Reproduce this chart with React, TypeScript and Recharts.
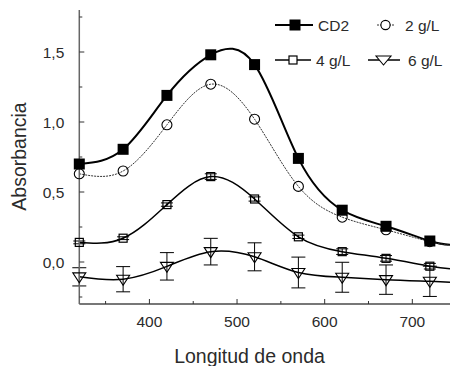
import React from 'react';
import { LineChart, Line, XAxis, YAxis, ErrorBar, Legend, Label } from 'recharts';

// Wavelengths (nm) of the measured points
const wavelengths = [320, 370, 420, 470, 520, 570, 620, 670, 720];
// Absorbance series
const cd2 = [0.70, 0.805, 1.19, 1.48, 1.41, 0.74, 0.37, 0.255, 0.15];
const g2 = [0.63, 0.65, 0.98, 1.27, 1.02, 0.54, 0.32, 0.23, 0.145];
const g4 = [0.14, 0.17, 0.41, 0.61, 0.45, 0.18, 0.074, 0.026, -0.03];
const g6 = [-0.106, -0.123, -0.031, 0.074, 0.037, -0.075, -0.109, -0.126, -0.138];
// Error bars
const g4Err = [0.01, 0.01, 0.012, 0.02, 0.015, 0.012, 0.02, 0.02, 0.02];
const g6Err = [0.065, 0.09, 0.098, 0.095, 0.1, 0.11, 0.107, 0.105, 0.108];
// Curves continue to the right edge of the plot
const edgeX = 743;
const edgeCd2 = 0.123;
const edgeG2 = 0.12;
const edgeG4 = -0.048;
const edgeG6 = -0.145;

// Ticks
const xTicks = [350, 400, 450, 500, 550, 600, 650, 700];
const xTickLabels: Record<number, string> = { 400: '400', 500: '500', 600: '600', 700: '700' };
const yTicks = [-0.25, 0, 0.25, 0.5, 0.75, 1.0, 1.25, 1.5, 1.75];
const yTickLabels: Record<string, string> = { '0': '0,0', '0.5': '0,5', '1': '1,0', '1.5': '1,5' };

const seriesNames = ['CD2', '2 g/L', '4 g/L', '6 g/L'];

const data = [
  ...wavelengths.map((x, i) => ({
    x,
    m: true,
    cd2: cd2[i],
    g2: g2[i],
    g4: g4[i],
    g6: g6[i],
    g4e: g4Err[i],
    g6e: g6Err[i],
  })),
  { x: edgeX, m: false, cd2: edgeCd2, g2: edgeG2, g4: edgeG4, g6: edgeG6, g4e: null, g6e: null },
];

const FONT = '"Liberation Sans", Arial, sans-serif';
const TXT = '#2b2b2b';

const FilledSquare = (p: any) =>
  p.payload && p.payload.m ? (
    <rect key={p.key} x={p.cx - 5.5} y={p.cy - 5.5} width={11} height={11} fill="#000" />
  ) : (
    <g key={p.key} />
  );
const OpenCircle = (p: any) =>
  p.payload && p.payload.m ? (
    <circle key={p.key} cx={p.cx} cy={p.cy} r={5} fill="none" stroke="#000" strokeWidth={1.1} />
  ) : (
    <g key={p.key} />
  );
const OpenSquare = (p: any) =>
  p.payload && p.payload.m ? (
    <rect key={p.key} x={p.cx - 4} y={p.cy - 4} width={8} height={8} fill="none" stroke="#000" strokeWidth={1.2} />
  ) : (
    <g key={p.key} />
  );
const OpenTriangle = (p: any) =>
  p.payload && p.payload.m ? (
    <path
      key={p.key}
      d={`M${p.cx - 6.5},${p.cy - 4} L${p.cx + 6.5},${p.cy - 4} L${p.cx},${p.cy + 6} Z`}
      fill="none"
      stroke="#000"
      strokeWidth={1.1}
    />
  ) : (
    <g key={p.key} />
  );

const XTick = (p: any) => {
  const v = p.payload.value;
  const lab = xTickLabels[v];
  const major = !!lab;
  return (
    <g>
      <line x1={p.x} x2={p.x} y1={p.y} y2={p.y - (major ? 5 : 3)} stroke="#333" strokeWidth={1} />
      {lab && (
        <text x={p.x} y={p.y + 23} textAnchor="middle" fontFamily={FONT} fontSize={15.5} fill={TXT}>
          {lab}
        </text>
      )}
    </g>
  );
};

const YTick = (p: any) => {
  const v = p.payload.value;
  const lab = yTickLabels[String(v)];
  const major = !!lab;
  return (
    <g>
      <line x1={p.x} x2={p.x + (major ? 5 : 3)} y1={p.y} y2={p.y} stroke="#333" strokeWidth={1} />
      {lab && (
        <text x={p.x - 15} y={p.y + 5.5} textAnchor="end" fontFamily={FONT} fontSize={15.5} fill={TXT}>
          {lab}
        </text>
      )}
    </g>
  );
};

const LegendContent = () => (
  <svg width={450} height={80} style={{ display: 'block' }}>
    {/* CD2 */}
    <line x1={275} x2={313} y1={25} y2={25} stroke="#000" strokeWidth={2} />
    <rect x={289.5} y={19.5} width={11} height={11} fill="#000" />
    <text x={318} y={31} fontFamily={FONT} fontSize={15.5} fill={TXT}>{seriesNames[0]}</text>
    {/* 2 g/L */}
    <line x1={377} x2={394} y1={25} y2={25} stroke="#333" strokeWidth={1} strokeDasharray="2 1" />
    <circle cx={385.5} cy={25} r={4.6} fill="#fff" stroke="#000" strokeWidth={1.1} />
    <text x={405} y={31} fontFamily={FONT} fontSize={15.5} fill={TXT}>{seriesNames[1]}</text>
    {/* 4 g/L */}
    <line x1={275} x2={311} y1={60} y2={60} stroke="#000" strokeWidth={1.5} />
    <rect x={289} y={56} width={8} height={8} fill="#fff" stroke="#000" strokeWidth={1.2} />
    <text x={316} y={66} fontFamily={FONT} fontSize={15.5} fill={TXT}>{seriesNames[2]}</text>
    {/* 6 g/L */}
    <line x1={368} x2={400} y1={60} y2={60} stroke="#000" strokeWidth={1.5} />
    <path d="M376,56 L391,56 L383.5,65 Z" fill="#fff" stroke="#000" strokeWidth={1.1} />
    <text x={408} y={66} fontFamily={FONT} fontSize={15.5} fill={TXT}>{seriesNames[3]}</text>
  </svg>
);

const XTitle = (p: any) => {
  const vb = p.viewBox || { x: 79.3, y: 304 };
  return (
    <text x={vb.x + 170.2} y={vb.y + 59} textAnchor="middle" fontFamily={FONT} fontSize={19.5} fill={TXT}>
      Longitud de onda
    </text>
  );
};
const YTitle = (p: any) => {
  const vb = p.viewBox || { x: 0, y: 10 };
  const x = vb.x + 26;
  const y = vb.y + 146.5;
  return (
    <text
      x={x}
      y={y}
      textAnchor="middle"
      transform={`rotate(-90 ${x} ${y})`}
      fontFamily={FONT}
      fontSize={19.5}
      fill={TXT}
    >
      Absorbancia
    </text>
  );
};

export default function App() {
  return (
    <div style={{ position: 'absolute', left: 0, top: 0, width: 450, height: 366, background: '#fff' }}>
      <LineChart width={450} height={366} data={data} margin={{ top: 10, right: 0, bottom: 0, left: 0 }}>
        <XAxis
          type="number"
          dataKey="x"
          domain={[320, edgeX]}
          ticks={xTicks}
          tick={<XTick />}
          tickSize={0}
          tickMargin={0}
          tickLine={false}
          axisLine={{ stroke: '#777', strokeWidth: 2 }}
          height={62}
        >
          <Label content={<XTitle />} />
        </XAxis>
        <YAxis
          type="number"
          domain={[-0.3, 1.8]}
          ticks={yTicks}
          tick={<YTick />}
          tickSize={0}
          tickMargin={0}
          tickLine={false}
          axisLine={{ stroke: '#666', strokeWidth: 1.5 }}
          width={79.3}
        >
          <Label content={<YTitle />} />
        </YAxis>
        <Legend
          content={<LegendContent />}
          layout="vertical"
          align="center"
          verticalAlign="middle"
          wrapperStyle={{ position: 'absolute', left: 0, top: 0, width: 450, height: 80 }}
        />
        <Line
          dataKey="cd2"
          name={seriesNames[0]}
          type="natural"
          stroke="#000"
          strokeWidth={2}
          dot={FilledSquare}
          activeDot={false}
          isAnimationActive={false}
        />
        <Line
          dataKey="g2"
          name={seriesNames[1]}
          type="natural"
          stroke="#333"
          strokeWidth={1}
          strokeDasharray="2 1"
          dot={OpenCircle}
          activeDot={false}
          isAnimationActive={false}
        />
        <Line
          dataKey="g4"
          name={seriesNames[2]}
          type="natural"
          stroke="#000"
          strokeWidth={1.5}
          dot={OpenSquare}
          activeDot={false}
          isAnimationActive={false}
        >
          <ErrorBar dataKey="g4e" width={6} stroke="#000" strokeWidth={1} direction="y" />
        </Line>
        <Line
          dataKey="g6"
          name={seriesNames[3]}
          type="natural"
          stroke="#000"
          strokeWidth={1.5}
          dot={OpenTriangle}
          activeDot={false}
          isAnimationActive={false}
        >
          <ErrorBar dataKey="g6e" width={7} stroke="#000" strokeWidth={1} direction="y" />
        </Line>
      </LineChart>
    </div>
  );
}
